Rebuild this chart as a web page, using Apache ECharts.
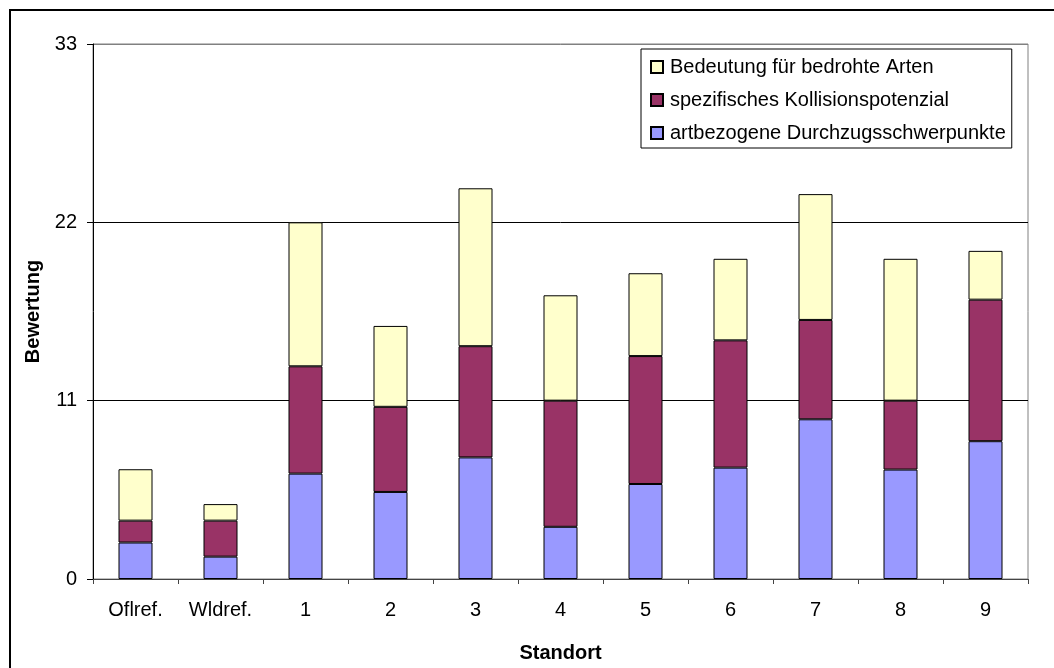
<!DOCTYPE html>
<html>
<head>
<meta charset="utf-8">
<style>
  html, body { margin: 0; padding: 0; background: #fff; }
  #chart { width: 1054px; height: 668px; }
</style>
<script src="https://cdn.jsdelivr.net/npm/echarts@6/dist/echarts.min.js"></script>
</head>
<body>
<div id="chart"></div>
<script>
// Standorte (Kategorien der x-Achse)
const standorte = ['Oflref.', 'Wldref.', '1', '2', '3', '4', '5', '6', '7', '8', '9'];

// Teilbewertungen je Standort (gestapelt: unten -> oben)
const durchzug   = [2.25, 1.38, 6.50, 5.37, 7.50, 3.22, 5.86, 6.87, 9.85, 6.75, 8.50];
const kollision  = [1.35, 2.22, 6.62, 5.25, 6.86, 7.78, 7.89, 7.85, 6.13, 4.25, 8.73];
const bedrohte   = [3.17, 1.02, 8.88, 4.99, 9.74, 6.50, 5.11, 5.03, 7.76, 8.75, 3.01];

const namen = {
  durchzug: 'artbezogene Durchzugsschwerpunkte',
  kollision: 'spezifisches Kollisionspotenzial',
  bedrohte: 'Bedeutung für bedrohte Arten'
};

const yTicks = { min: 0, max: 33, interval: 11 };

const FONT = '"Liberation Sans", Arial, sans-serif';

function stack(name, data, color) {
  return {
    name: name,
    type: 'bar',
    stack: 'gesamt',
    data: data,
    barWidth: 34,
    itemStyle: { color: color, borderColor: '#000', borderWidth: 1 },
    emphasis: { disabled: true }
  };
}

const chart = echarts.init(document.getElementById('chart'), null, { renderer: 'canvas' });

chart.setOption({
  animation: false,
  backgroundColor: '#fff',
  textStyle: { fontFamily: FONT, color: '#000' },
  graphic: [{
    type: 'rect',
    shape: { x: 10, y: 10, width: 1200, height: 900 },
    style: { fill: 'none', stroke: '#000', lineWidth: 2 },
    silent: true
  }],
  grid: {
    left: 93, right: 26, top: 44, bottom: 83,
    show: true, borderColor: '#808080', borderWidth: 1, backgroundColor: 'transparent'
  },
  legend: {
    orient: 'vertical',
    left: 641, top: 49,
    data: [namen.bedrohte, namen.kollision, namen.durchzug],
    icon: 'rect',
    itemWidth: 12, itemHeight: 12, itemGap: 13,
    padding: [8, 6, 5, 9],
    backgroundColor: '#fff',
    borderColor: '#000', borderWidth: 1,
    textStyle: { fontFamily: FONT, fontSize: 20, color: '#000', padding: [0, 0, 0, 2] }
  },
  xAxis: {
    type: 'category',
    data: standorte,
    boundaryGap: true,
    name: 'Standort',
    nameLocation: 'middle',
    nameGap: 64,
    nameTextStyle: { fontFamily: FONT, fontSize: 20, fontWeight: 'bold', color: '#000' },
    axisLine: { lineStyle: { color: '#444', width: 1 } },
    axisTick: { show: true, length: 5, lineStyle: { color: '#444' } },
    axisLabel: { fontFamily: FONT, fontSize: 20, color: '#000', margin: 21 },
    splitLine: { show: false }
  },
  yAxis: {
    type: 'value',
    min: yTicks.min, max: yTicks.max, interval: yTicks.interval,
    name: 'Bewertung',
    nameLocation: 'middle',
    nameGap: 49,
    nameRotate: 90,
    nameTextStyle: { fontFamily: FONT, fontSize: 20, fontWeight: 'bold', color: '#000' },
    axisLine: { show: true, lineStyle: { color: '#000', width: 1 } },
    axisTick: { show: true, length: 6, lineStyle: { color: '#000' } },
    axisLabel: { fontFamily: FONT, fontSize: 20, color: '#000', margin: 16 },
    splitLine: { show: true, lineStyle: { color: ['#000', '#000', '#000', '#808080'], width: 1 } }
  },
  series: [
    stack(namen.durchzug, durchzug, '#9999FF'),
    stack(namen.kollision, kollision, '#993366'),
    stack(namen.bedrohte, bedrohte, '#FFFFCC')
  ]
});
</script>
</body>
</html>
